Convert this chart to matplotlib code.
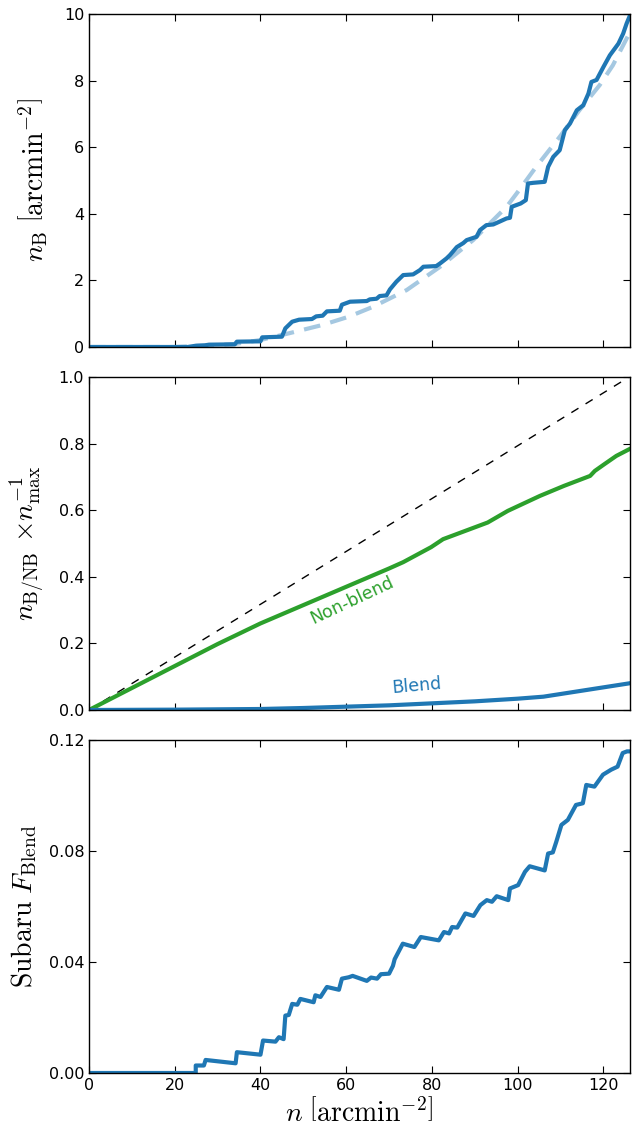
import matplotlib
matplotlib.use('Agg')
import matplotlib.pyplot as plt

plt.rcParams['mathtext.fontset'] = 'cm'
plt.rcParams['font.family'] = 'DejaVu Sans'

BLUE = '#1f77b4'
GREEN = '#2ca02c'

# top panel: cumulative blend density (solid) and smooth fit (dashed)
nb_n = [0, 23, 25, 27, 28, 34, 34.5, 40, 40.4, 45, 45.8, 47.4, 49, 52, 53, 54.5, 55.5, 58.5,
        59, 60.9, 64.8, 65.5, 67.1, 67.8, 69.4, 70.2, 71.7, 73.3, 75.6, 77.2, 78, 81, 81.9,
        83.4, 84.2, 85.8, 87.3, 88.1, 90.4, 91.2, 92.7, 94.3, 95, 97.4, 98.2, 98.6, 100.7,
        101.9, 102.4, 103.6, 106.3, 107.1, 108.3, 109.8, 111, 112.2, 113.8, 115.3, 116.5,
        117.2, 118.4, 120, 121.5, 123.5, 124.6, 125.4, 126.2]
nb_val = [0, 0, 0.04, 0.05, 0.07, 0.08, 0.16, 0.17, 0.29, 0.31, 0.56, 0.76, 0.82, 0.84, 0.92,
          0.94, 1.07, 1.09, 1.27, 1.36, 1.38, 1.43, 1.45, 1.53, 1.55, 1.73, 1.96, 2.16, 2.18,
          2.31, 2.41, 2.43, 2.51, 2.66, 2.76, 3.0, 3.12, 3.21, 3.31, 3.51, 3.66, 3.68, 3.72,
          3.86, 3.88, 4.21, 4.31, 4.41, 4.91, 4.93, 4.96, 5.41, 5.71, 5.91, 6.51, 6.71, 7.11,
          7.26, 7.61, 7.96, 8.02, 8.41, 8.76, 9.11, 9.41, 9.71, 9.96]

fit_n = [0, 20, 27, 34, 40, 46.6, 54.4, 60.6, 66.3, 74.1, 81.9, 89.6, 97.4, 99.7, 104.3,
         109.8, 114.4, 119.1, 122.2, 125.6, 126.2]
fit_val = [0, 0.0, 0.04, 0.09, 0.21, 0.41, 0.66, 0.91, 1.21, 1.71, 2.41, 3.21, 4.21, 4.6,
           5.41, 6.31, 7.11, 7.86, 8.46, 9.31, 9.45]

# middle panel: normalised blend / non-blend counts
nonblend_n = [0, 10, 20, 30, 40, 50, 60, 70, 73.3, 79.8, 82.6, 93, 97.7, 105.2, 110.8,
              116.9, 118, 120.2, 123, 126]
nonblend_val = [0, 0.066, 0.132, 0.198, 0.26, 0.315, 0.37, 0.425, 0.444, 0.489, 0.513,
                0.563, 0.598, 0.643, 0.673, 0.703, 0.718, 0.738, 0.763, 0.783]
blend_n = [0, 20, 40, 50, 60, 70, 80, 90, 100, 106, 110, 116, 120, 126]
blend_val = [0, 0.001, 0.003, 0.006, 0.010, 0.014, 0.020, 0.026, 0.034, 0.040, 0.048,
             0.060, 0.068, 0.080]
diag_n = [0, 126]
diag_val = [0, 1.0]

# bottom panel: blend fraction
fb_n = [0, 24.9, 24.9, 26.8, 27.2, 34.2, 34.5, 40, 40.6, 43.5, 44.3, 45.4, 45.8, 46.6, 47.4,
        48.6, 49.3, 52.4, 52.8, 54, 55.5, 58.3, 59, 60.6, 61.5, 64.8, 65.8, 67.2, 68.1, 70,
        70.9, 71.3, 73.2, 75.9, 77.4, 81.6, 82.8, 84, 84.7, 85.9, 87.8, 89.7, 91.3, 92.8, 94,
        95.1, 97.8, 98.2, 100.1, 101.7, 102.8, 106.3, 107.1, 108.2, 109, 110.2, 111.7, 113.6,
        115.2, 116, 117.9, 119.9, 121.8, 123.3, 124.5, 125.5, 126.2]
fb_val = [0, 0, 0.0027, 0.0027, 0.0047, 0.0035, 0.0075, 0.0066, 0.0117, 0.0113, 0.0129,
          0.0122, 0.0207, 0.0209, 0.0249, 0.0246, 0.0267, 0.0255, 0.028, 0.0274, 0.031, 0.030,
          0.034, 0.0345, 0.035, 0.0332, 0.0344, 0.034, 0.0356, 0.0358, 0.0386, 0.041, 0.0466,
          0.0454, 0.049, 0.0478, 0.0508, 0.0503, 0.0526, 0.0524, 0.0575, 0.0566, 0.0605,
          0.0623, 0.0617, 0.0637, 0.0623, 0.0665, 0.0677, 0.0725, 0.0745, 0.073, 0.0791,
          0.0795, 0.0833, 0.0894, 0.0912, 0.0966, 0.0972, 0.1038, 0.1032, 0.1075, 0.1093,
          0.1104, 0.1153, 0.1159, 0.1159]

XMAX = 126.2

fig = plt.figure(figsize=(6.32, 11.33), dpi=100)
left, width, height = 89 / 632, 541 / 632, 333 / 1133
ax1 = fig.add_axes([left, 1 - 347 / 1133, width, height])
ax2 = fig.add_axes([left, 1 - 710 / 1133, width, height])
ax3 = fig.add_axes([left, 1 - 1073 / 1133, width, height])

ax1.plot(fit_n, fit_val, '--', color=BLUE, alpha=0.4, lw=3, dashes=(4, 2.5))
ax1.plot(nb_n, nb_val, '-', color=BLUE, lw=3)
ax1.set_ylim(0, 10)
ax1.set_yticks([0, 2, 4, 6, 8, 10])
ax1.set_ylabel(r'$n_{\rm B}\ \left[{\rm arcmin}^{-2}\right]$', fontsize=20)

ax2.plot(diag_n, diag_val, '--', color='black', lw=1, dashes=(6, 6))
ax2.plot(nonblend_n, nonblend_val, '-', color=GREEN, lw=3)
ax2.plot(blend_n, blend_val, '-', color=BLUE, lw=3)
ax2.set_ylim(0, 1.0)
ax2.set_yticks([0, 0.2, 0.4, 0.6, 0.8, 1.0])
ax2.set_yticklabels(['0.0', '0.2', '0.4', '0.6', '0.8', '1.0'])
ax2.set_ylabel(r'$n_{\rm B/NB}$ $\times n_{\rm max}^{-1}$', fontsize=20)
ax2.text(61.3, 0.33, 'Non-blend', color=GREEN, fontsize=12.5, rotation=25,
         ha='center', va='center')
ax2.text(76.4, 0.072, 'Blend', color=BLUE, fontsize=12.5, rotation=5,
         ha='center', va='center')

ax3.plot(fb_n, fb_val, '-', color=BLUE, lw=3)
ax3.set_ylim(0, 0.12)
ax3.set_yticks([0, 0.04, 0.08, 0.12])
ax3.set_yticklabels(['0.00', '0.04', '0.08', '0.12'])
ax3.set_ylabel(r'${\rm Subaru}\ F_{\rm Blend}$', fontsize=20)
ax3.set_xlabel(r'$n\ \left[{\rm arcmin}^{-2}\right]$', fontsize=20)

for ax in (ax1, ax2, ax3):
    ax.set_xlim(0, XMAX)
    ax.set_xticks([0, 20, 40, 60, 80, 100, 120])
    ax.tick_params(direction='in', top=True, right=True, length=5, labelsize=11.5)
    for sp in ax.spines.values():
        sp.set_linewidth(1)
for ax in (ax1, ax2):
    ax.tick_params(labelbottom=False)

ax1.yaxis.set_label_coords(-0.072, 0.5)
ax2.yaxis.set_label_coords(-0.079, 0.5)
ax3.yaxis.set_label_coords(-0.092, 0.5)

fig.savefig('out.png', dpi=100)
